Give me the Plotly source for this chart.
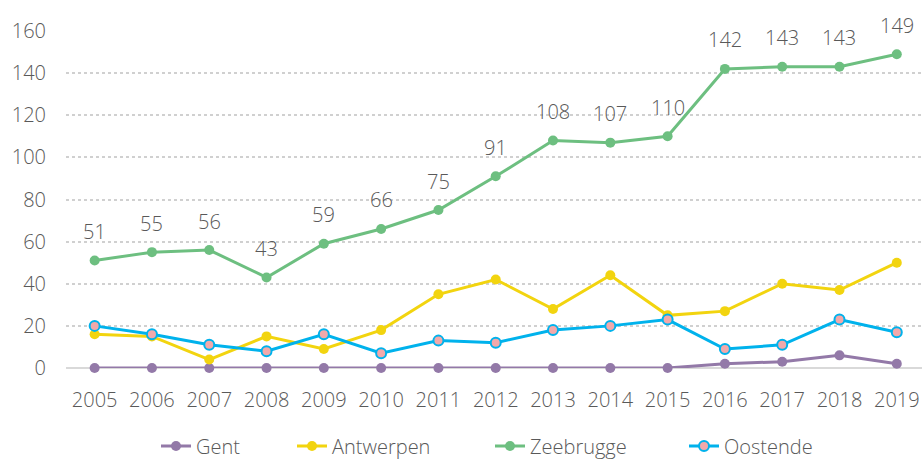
import plotly.graph_objects as go

years = list(range(2005, 2020))
gent = [0, 0, 0, 0, 0, 0, 0, 0, 0, 0, 0, 2, 3, 6, 2]
antwerpen = [16, 15, 4, 15, 9, 18, 35, 42, 28, 44, 25, 27, 40, 37, 50]
zeebrugge = [51, 55, 56, 43, 59, 66, 75, 91, 108, 107, 110, 142, 143, 143, 149]
oostende = [20, 16, 11, 8, 16, 7, 13, 12, 18, 20, 23, 9, 11, 23, 17]
y_ticks = [0, 20, 40, 60, 80, 100, 120, 140, 160]

FONT = "Open Sans"
TXT = "#595959"
WEIGHT = 300

# plot area in pixels
L, R, T, B, W, H = 66, 0, 31, 94, 922, 462
PW = W - L - R
PH = H - T - B

fig = go.Figure()

# legend text start positions (px) for each series
legend_text_x = [197, 333, 531, 725]
legend_names = ["legend", "legend2", "legend3", "legend4"]

def add(i, name, vals, color, mfill=None):
    fig.add_trace(go.Scatter(
        x=years, y=vals, name=name, mode="lines+markers",
        line=dict(color=color, width=3),
        marker=dict(size=10, color=mfill or color,
                    line=dict(color=color, width=2 if mfill else 0)),
        cliponaxis=False, legend=legend_names[i],
    ))

add(0, "Gent", gent, "#9379a8")
add(1, "Antwerpen", antwerpen, "#f2d40f")
add(2, "Zeebrugge", zeebrugge, "#6dbf80")
add(3, "Oostende", oostende, "#00b2ec", mfill="#f2a9ab")

for x, v in zip(years, zeebrugge):
    fig.add_annotation(x=x, y=v, text=str(v), showarrow=False,
                       yanchor="middle", yshift=29,
                       font=dict(family=FONT, size=20, color=TXT, weight=WEIGHT))

legends = {}
for name, tx in zip(legend_names, legend_text_x):
    legends[name] = dict(orientation="h", xref="container", x=(tx - 41) / W,
                         xanchor="left",
                         yref="container", y=1 - 446 / H, yanchor="middle",
                         bgcolor="rgba(0,0,0,0)",
                         font=dict(family=FONT, size=20, color=TXT, weight=WEIGHT))

fig.update_layout(
    width=W, height=H,
    margin=dict(l=L, r=R, t=T, b=B),
    paper_bgcolor="white", plot_bgcolor="white",
    font=dict(family=FONT, size=20, color=TXT, weight=WEIGHT),
    showlegend=True,
    xaxis=dict(range=[2004.5, 2019.44], tickmode="array", tickvals=years,
               ticktext=[str(y) for y in years], showgrid=False,
               zeroline=False, showline=False, ticks="",
               ticklabelstandoff=18, automargin=False,
               tickfont=dict(family=FONT, size=20, color=TXT, weight=WEIGHT)),
    yaxis=dict(range=[0, 160], tickmode="array", tickvals=y_ticks,
               showgrid=True, gridcolor="#d0d0d0", griddash="dot",
               gridwidth=1.5,
               zeroline=True, zerolinecolor="#d9d9d9", zerolinewidth=2,
               showline=False, ticks="", ticklabelstandoff=19,
               automargin=False,
               tickfont=dict(family=FONT, size=20, color=TXT, weight=WEIGHT)),
    **legends,
)

fig.write_html(
    "out.html",
    config={"displayModeBar": False},
    post_script="document.body.style.margin='0';document.body.style.overflow='hidden';",
)
